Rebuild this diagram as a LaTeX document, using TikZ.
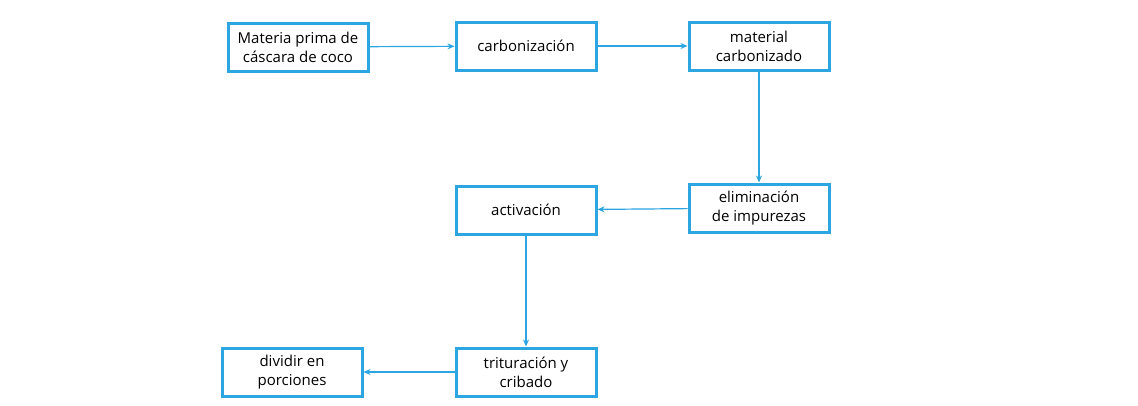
\documentclass[tikz,border=0pt]{standalone}
\usepackage{fontspec}
\setmainfont{Open Sans}
\usetikzlibrary{arrows.meta}
\definecolor{bl}{RGB}{45,165,225}
\begin{document}
\begin{tikzpicture}[x=1pt,y=-1pt,
 box/.style={draw=bl,line width=3pt,minimum width=140pt,minimum height=48pt,align=center,font=\fontsize{15}{19}\selectfont,inner sep=1pt},
 arr/.style={draw=bl,line width=1.2pt,-{Stealth[length=7pt,width=6pt]}}]
\useasboundingbox (0,0) rectangle (1138,405);
\node[box] (a) at (298,47) {Materia prima de\\cáscara de coco};
\node[box] (b) at (526,46) {carbonización};
\node[box] (c) at (759,46) {material\\carbonizado};
\node[box] (d) at (759,208) {eliminación\\de impurezas};
\node[box] (e) at (526,210) {activación};
\node[box] (f) at (526,372) {trituración y\\cribado};
\node[box] (g) at (292,372) {dividir en\\porciones};
\draw[arr] (a) -- (b);
\draw[arr] (b) -- (c);
\draw[arr] (c) -- (d);
\draw[arr] (d) -- (e);
\draw[arr] (e) -- (f);
\draw[arr] (f) -- (g);
\end{tikzpicture}
\end{document}
